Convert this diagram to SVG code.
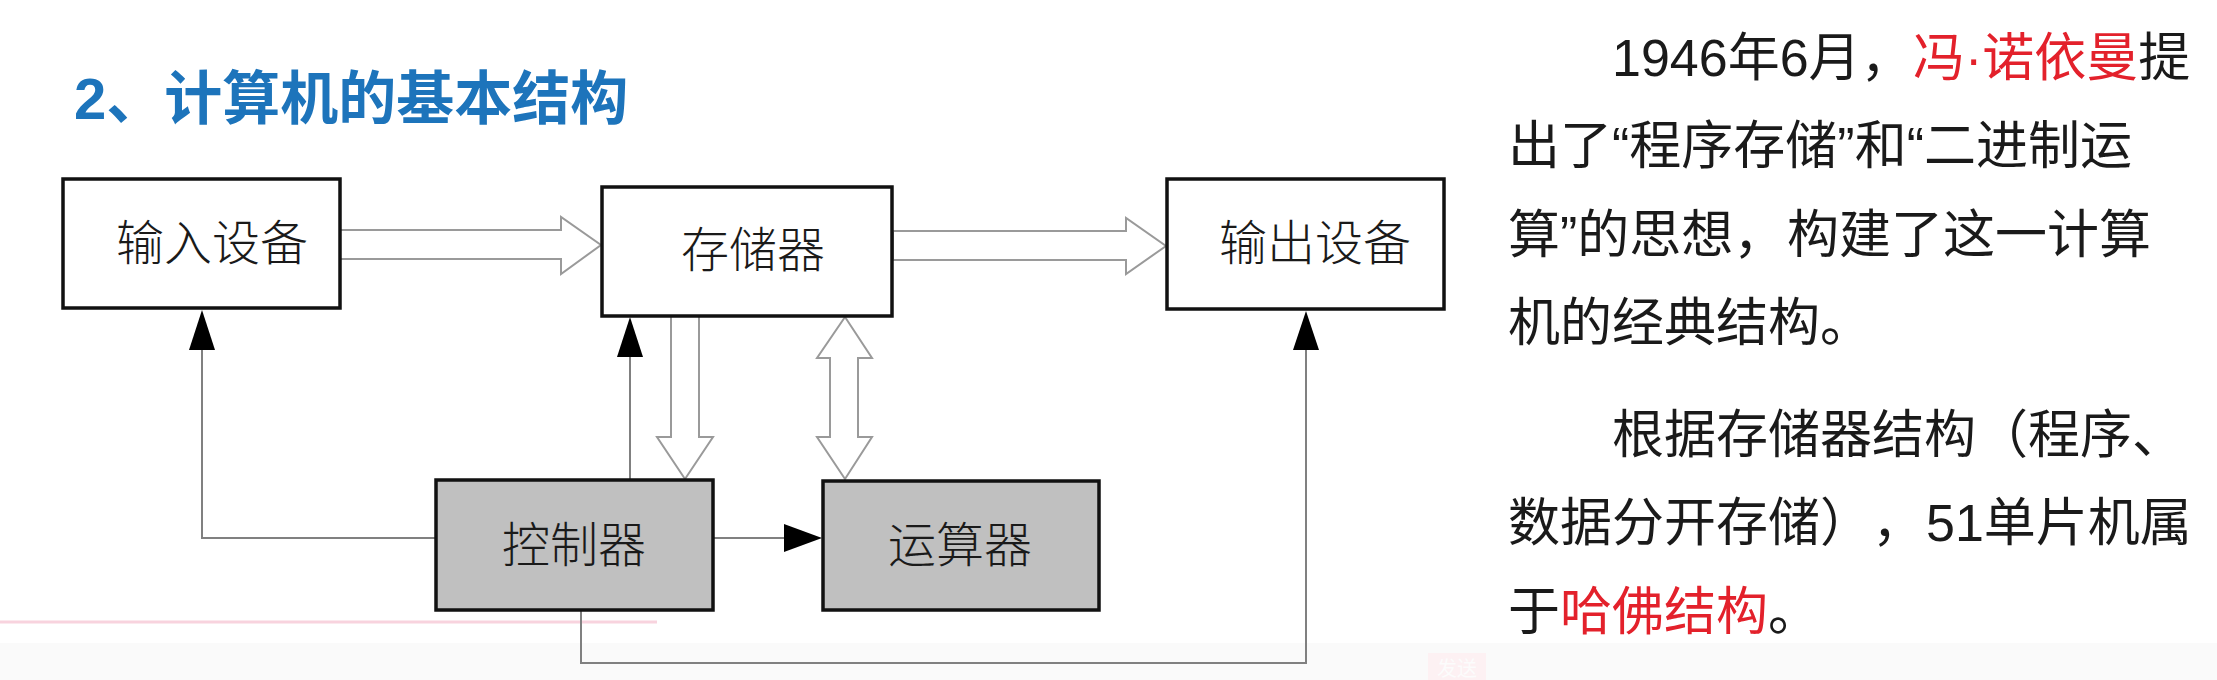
<svg xmlns="http://www.w3.org/2000/svg" width="2217" height="680" viewBox="0 0 2217 680">
<style>
.box{stroke:#111;stroke-width:3.5;}
.white{fill:#fff;}
.gray{fill:#c0c0c0;}
.lbl{font-family:"Noto Sans CJK SC","Noto Sans CJK TC",sans-serif;font-size:48px;fill:#1a1a1a;text-anchor:middle;font-weight:300;}
.ln{fill:none;stroke:#808080;stroke-width:2;}
.hol{fill:#fff;stroke:#9a9a9a;stroke-width:2;stroke-linejoin:miter;}
.head{fill:#000;}
.body{font-family:"Liberation Sans","Noto Sans CJK SC",sans-serif;font-size:52px;fill:#1a1a1a;text-spacing-trim:space-all;}
.red{fill:#e3212b;}
</style>
<rect x="0" y="0" width="2217" height="680" fill="#fff"/>
<rect x="0" y="643" width="2217" height="37" fill="#fafafa"/>
<line x1="0" y1="622" x2="657" y2="622" stroke="#f8d3de" stroke-width="3"/>
<rect x="1428" y="653" width="58" height="27" fill="#fdf1f3"/>
<text x="1457" y="676" font-family="Noto Sans CJK SC,sans-serif" font-size="20" fill="#fcfcfc" text-anchor="middle">发送</text>

<text x="74" y="119" font-family="Liberation Sans,Noto Sans CJK SC,sans-serif" font-size="58" font-weight="bold" fill="#1d74bb">2、计算机的基本结构</text>

<g id="connectors">
  <polygon class="hol" points="340,230 561,230 561,217 601,245 561,274 561,259 340,259"/>
  <polygon class="hol" points="893,231 1126,231 1126,218 1166,246 1126,274 1126,260 893,260"/>
  <polygon class="hol" points="671,316 699,316 699,437 713,437 685,479 657,437 671,437"/>
  <polygon class="hol" points="845,317 872,358 858,358 858,437 872,437 845,479 817,437 830,437 830,358 817,358"/>
  <polyline class="ln" points="436,538 202,538 202,348"/>
  <polygon class="head" points="202,310 215,350 189,350"/>
  <line class="ln" x1="630" y1="480" x2="630" y2="355"/>
  <polygon class="head" points="630,317 643,357 617,357"/>
  <line class="ln" x1="713" y1="538" x2="786" y2="538"/>
  <polygon class="head" points="822,538 784,524 784,552"/>
  <polyline class="ln" points="581,610 581,663 1306,663 1306,348"/>
  <polygon class="head" points="1306,311 1319,350 1293,350"/>
</g>

<g id="input">
  <rect class="box white" x="63" y="179" width="277" height="129"/>
  <text class="lbl" x="212" y="260">输入设备</text>
</g>
<g id="memory">
  <rect class="box white" x="602" y="187" width="290" height="129"/>
  <text class="lbl" x="753" y="267">存储器</text>
</g>
<g id="output">
  <rect class="box white" x="1167" y="179" width="277" height="130"/>
  <text class="lbl" x="1315" y="260">输出设备</text>
</g>
<g id="controller">
  <rect class="box gray" x="436" y="480" width="277" height="130"/>
  <text class="lbl" x="574" y="562">控制器</text>
</g>
<g id="alu">
  <rect class="box gray" x="823" y="481" width="276" height="129"/>
  <text class="lbl" x="960" y="562">运算器</text>
</g>

<g id="description">
  <text class="body" x="1612" y="76">1946年6月，<tspan class="red" x="1913">冯·诺依曼</tspan>提</text>
  <text class="body" x="1508" y="164">出了“程序存储”和“二进制运</text>
  <text class="body" x="1508" y="253">算”的思想，<tspan x="1787">构建了这一计算</tspan></text>
  <text class="body" x="1508" y="341">机的经典结构。</text>
  <text class="body" x="1612" y="453">根据存储器结构（程序、</text>
  <text class="body" x="1508" y="541">数据分开存储）<tspan x="1872">，</tspan><tspan x="1926">51单片机属</tspan></text>
  <text class="body" x="1508" y="630">于<tspan class="red">哈佛结构</tspan>。</text>
</g>
</svg>
